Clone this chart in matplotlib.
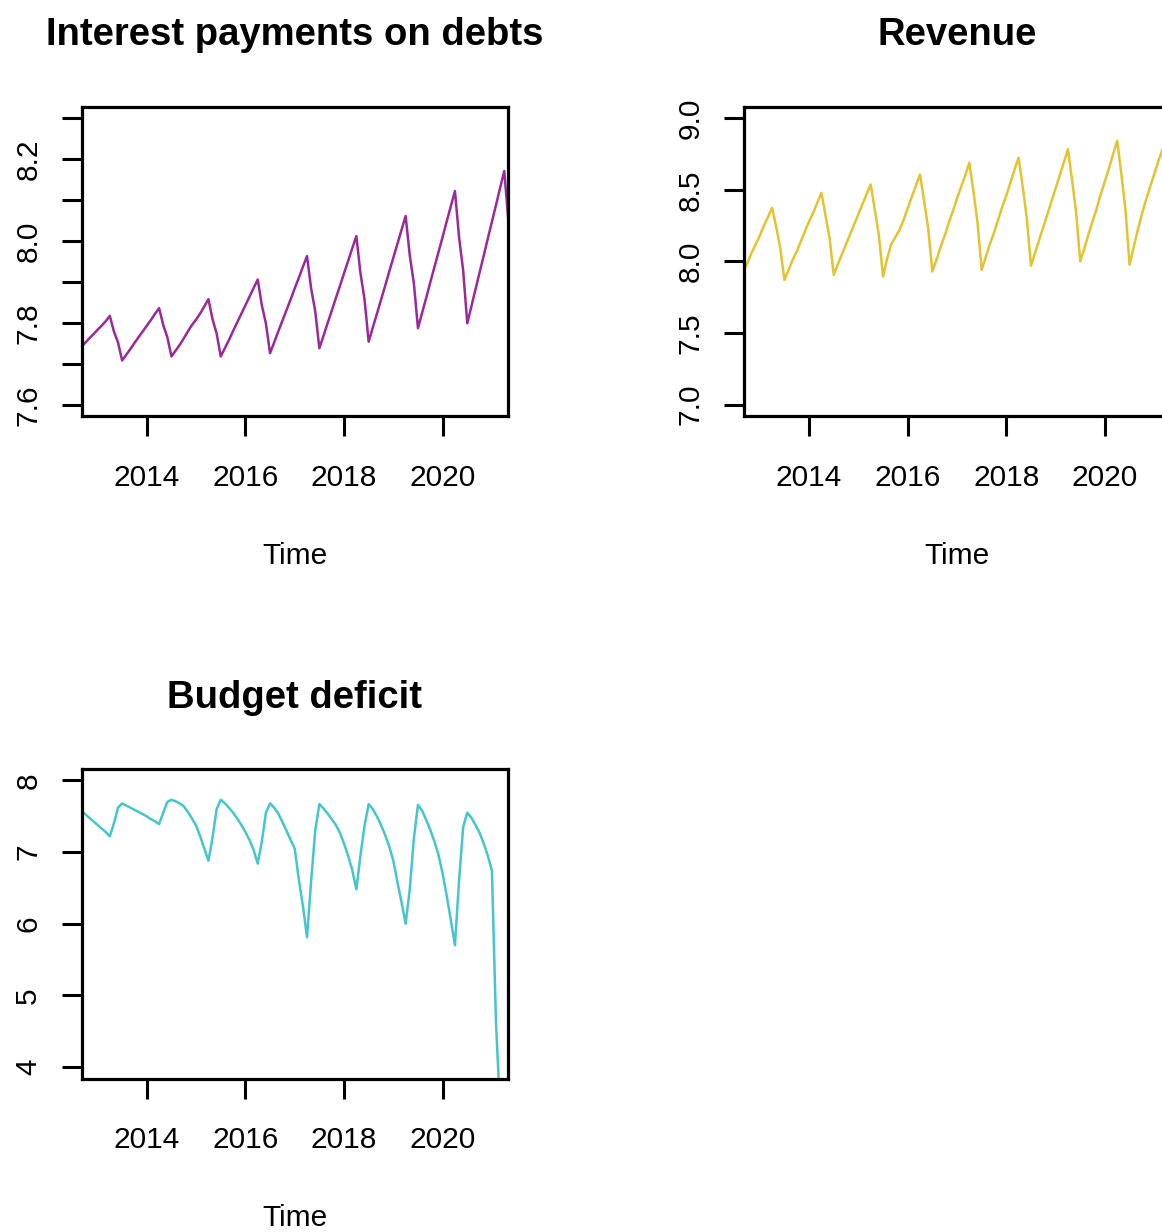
import numpy as np
import matplotlib
matplotlib.use("Agg")
import matplotlib.pyplot as plt

plt.rcParams["font.family"] = ["Liberation Sans", "DejaVu Sans"]

# monthly series, first value is Sep 2012
start_year, start_month = 2012, 9

interest = [
    7.741, 7.751, 7.762, 7.772,
    7.783, 7.793, 7.804, 7.817, 7.779, 7.752, 7.708, 7.722, 7.736, 7.751, 7.765, 7.779,
    7.793, 7.807, 7.822, 7.836, 7.795, 7.765, 7.718, 7.732, 7.746, 7.762, 7.779, 7.795,
    7.808, 7.823, 7.840, 7.858, 7.809, 7.774, 7.718, 7.738, 7.758, 7.780, 7.801, 7.822,
    7.843, 7.864, 7.885, 7.906, 7.843, 7.798, 7.726, 7.752, 7.779, 7.805, 7.831, 7.857,
    7.884, 7.910, 7.937, 7.963, 7.884, 7.828, 7.738, 7.768, 7.799, 7.829, 7.860, 7.890,
    7.921, 7.951, 7.982, 8.012, 7.922, 7.857, 7.754, 7.788, 7.822, 7.856, 7.890, 7.925,
    7.959, 7.993, 8.027, 8.061, 7.965, 7.897, 7.787, 7.824, 7.861, 7.899, 7.936, 7.973,
    8.010, 8.048, 8.085, 8.122, 8.009, 7.928, 7.799, 7.840, 7.882, 7.923, 7.964, 8.006,
    8.047, 8.088, 8.130, 8.171, 8.05,
]

revenue = [
    7.93, 7.99, 8.06, 8.12,
    8.18, 8.25, 8.31, 8.374, 8.24, 8.09, 7.871, 7.94, 8.01, 8.07, 8.14, 8.21,
    8.28, 8.34, 8.41, 8.479, 8.32, 8.16, 7.907, 7.98, 8.05, 8.12, 8.19, 8.26,
    8.33, 8.40, 8.47, 8.537, 8.36, 8.18, 7.895, 8.02, 8.12, 8.17, 8.22, 8.29,
    8.37, 8.45, 8.53, 8.607, 8.42, 8.23, 7.930, 8.01, 8.10, 8.18, 8.27, 8.35,
    8.44, 8.52, 8.60, 8.689, 8.49, 8.27, 7.942, 8.03, 8.12, 8.20, 8.29, 8.38,
    8.46, 8.55, 8.64, 8.724, 8.52, 8.30, 7.970, 8.06, 8.15, 8.24, 8.33, 8.42,
    8.51, 8.60, 8.69, 8.783, 8.57, 8.34, 8.000, 8.09, 8.19, 8.28, 8.37, 8.47,
    8.56, 8.65, 8.75, 8.841, 8.61, 8.36, 7.977, 8.10, 8.22, 8.33, 8.43, 8.52,
    8.61, 8.70, 8.78,
]

deficit = [
    7.58, 7.53, 7.48, 7.43,
    7.38, 7.33, 7.28, 7.22, 7.40, 7.62, 7.68, 7.65, 7.62, 7.59, 7.56, 7.53,
    7.50, 7.46, 7.43, 7.39, 7.55, 7.70, 7.73, 7.71, 7.68, 7.64, 7.56, 7.47,
    7.37, 7.22, 7.05, 6.88, 7.20, 7.60, 7.73, 7.68, 7.62, 7.55, 7.47, 7.38,
    7.28, 7.17, 7.03, 6.84, 7.15, 7.55, 7.68, 7.62, 7.54, 7.42, 7.30, 7.17,
    7.05, 6.62, 6.25, 5.81, 6.60, 7.30, 7.67, 7.61, 7.54, 7.46, 7.38, 7.27,
    7.12, 6.95, 6.75, 6.48, 6.95, 7.37, 7.67, 7.60, 7.50, 7.38, 7.24, 7.08,
    6.88, 6.58, 6.30, 6.00, 6.48, 7.19, 7.66, 7.58, 7.45, 7.31, 7.15, 6.96,
    6.70, 6.39, 6.05, 5.70, 6.60, 7.35, 7.55, 7.48, 7.38, 7.27, 7.12, 6.95,
    6.74, 4.60, 3.40,
]

year_ticks = [2014, 2016, 2018, 2020]
interest_ticks = [7.6, 7.7, 7.8, 7.9, 8.0, 8.1, 8.2, 8.3]
interest_labels = ["7.6", "", "7.8", "", "8.0", "", "8.2", ""]
revenue_ticks = [7.0, 7.5, 8.0, 8.5, 9.0]
revenue_labels = ["7.0", "7.5", "8.0", "8.5", "9.0"]
deficit_ticks = [4, 5, 6, 7, 8]
deficit_labels = ["4", "5", "6", "7", "8"]

W, H = 1162, 1232


def ts_time(n):
    """Decimal-year index of a monthly series, like R's time()."""
    return start_year + (start_month - 1) / 12 + np.arange(n) / 12


def r_range(lo, hi):
    pad = 0.04 * (hi - lo)
    return lo - pad, hi + pad


def ts_panel(fig, left, top, values, color, title, yticks, ylabels, ylim):
    width, height = 426, 309.5
    ax = fig.add_axes([left / W, 1 - (top + height) / H, width / W, height / H])
    ax.plot(ts_time(len(values)), values, color=color, lw=1.8)
    ax.set_xlim(*r_range(2013, 2021))
    ax.set_ylim(*r_range(*ylim))
    ax.set_xticks(year_ticks, [str(y) for y in year_ticks])
    ax.set_yticks(yticks, ylabels)
    for lab in ax.get_yticklabels():
        lab.set_rotation(90)
        lab.set_va("center")
    ax.tick_params(axis="both", direction="out", length=14.4, width=2.2,
                   labelsize=21.5, colors="black")
    ax.tick_params(axis="x", pad=20)
    ax.tick_params(axis="y", pad=14)
    for sp in ax.spines.values():
        sp.set_linewidth(2.3)
    cx = (left + width / 2) / W
    fig.text(cx, 1 - (top - 61.5) / H, title, ha="center", va="baseline",
             fontsize=27.5, fontweight="bold")
    fig.text(cx, 1 - (top + 457.5) / H, "Time", ha="center", va="baseline",
             fontsize=21.5)
    return ax


fig = plt.figure(figsize=(W / 100, H / 100), dpi=100)
fig.patch.set_facecolor("white")

ts_panel(fig, 81.7, 106.7, interest, "#9A2A9A", "Interest payments on debts",
         interest_ticks, interest_labels, (7.6, 8.3))
ts_panel(fig, 744.0, 106.7, revenue, "#E3C430", "Revenue",
         revenue_ticks, revenue_labels, (7.0, 9.0))
ts_panel(fig, 81.7, 769.0, deficit, "#45C6CC", "Budget deficit",
         deficit_ticks, deficit_labels, (4, 8))

fig.savefig("out.png", dpi=100)
